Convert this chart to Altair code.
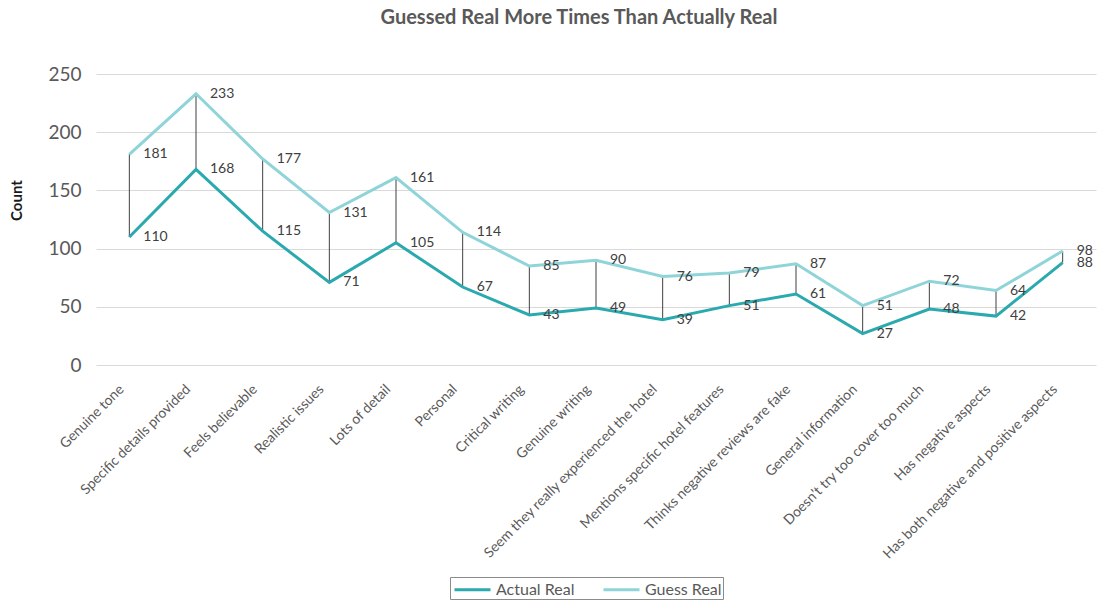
import altair as alt
import pandas as pd

categories = [
    "Genuine tone", "Specific details provided", "Feels believable", "Realistic issues",
    "Lots of detail", "Personal", "Critical writing", "Genuine writing",
    "Seem they really experienced the hotel", "Mentions specific hotel features",
    "Thinks negative reviews are fake", "General information",
    "Doesn\u2019t try too cover too much", "Has negative aspects",
    "Has both negative and positive aspects",
]
actual_real = [110, 168, 115, 71, 105, 67, 43, 49, 39, 51, 61, 27, 48, 42, 88]
guess_real = [181, 233, 177, 131, 161, 114, 85, 90, 76, 79, 87, 51, 72, 64, 98]

series_names = ["Actual Real", "Guess Real"]
series_colors = ["#2AA9AE", "#8FD4D8"]

wide = pd.DataFrame({"cat": categories, "actual": actual_real, "guess": guess_real})
long = pd.concat([
    pd.DataFrame({"cat": categories, "value": actual_real, "series": "Actual Real", "ord": 0}),
    pd.DataFrame({"cat": categories, "value": guess_real, "series": "Guess Real", "ord": 1}),
])

FONT = "Lato"
x = alt.X("cat:N", sort=categories, scale=alt.Scale(type="point", padding=0.5),
          axis=alt.Axis(title=None, labelAngle=-45, labelFontSize=14, labelColor="#595959",
                        ticks=False, domain=False, grid=False, labelPadding=17, labelFont=FONT,
                        labelLimit=400, labelOffset=-13))
y_scale = alt.Scale(domain=[0, 250])

rules = alt.Chart(wide).mark_rule(color="#404040", strokeWidth=1).encode(
    x=x,
    y=alt.Y("actual:Q", scale=y_scale,
            axis=alt.Axis(title="Count", values=[0, 50, 100, 150, 200, 250], grid=True,
                          gridColor="#d9d9d9", gridWidth=1.2, domain=False, ticks=False,
                          labelFontSize=19, labelColor="#595959", labelPadding=15, labelFont=FONT,
                          titleFont=FONT, titleFontSize=15, titleFontWeight="bold",
                          titleColor="#1a1a1a", titleX=-72, titleY=126)),
    y2="guess:Q",
)

lines = alt.Chart(long).mark_line(strokeWidth=3).encode(
    x=x,
    y=alt.Y("value:Q", scale=y_scale),
    color=alt.Color("series:N", scale=alt.Scale(domain=series_names, range=series_colors),
                    legend=alt.Legend(title=None, orient="none", legendX=354, legendY=503,
                                      direction="horizontal", strokeColor="#8c8c8c", padding=1,
                                      labelFontSize=16, labelColor="#595959", labelFont=FONT,
                                      symbolType="M-1.8,0H1.8", symbolStrokeWidth=3, symbolSize=400,
                                      symbolOffset=10, labelOffset=12, columnPadding=22)),
    detail="series:N",
    order="ord:Q",
)

labels = alt.Chart(long).mark_text(align="left", baseline="middle", dx=14, fontSize=14,
                                   color="#404040", font=FONT).encode(
    x=x,
    y=alt.Y("value:Q", scale=y_scale),
    text="value:Q",
)

chart = alt.layer(rules, lines, labels).properties(
    width=1000, height=291,
    title=alt.TitleParams("Guessed Real More Times Than Actually Real", fontSize=20,
                          fontWeight="bold", color="#595959", font=FONT, offset=37, dx=-17),
    autosize=alt.AutoSizeParams(type="none"),
    padding={"left": 96, "top": 74, "right": 6, "bottom": 236},
).configure_view(stroke=None)

chart.save("out.html", embed_options={"renderer": "svg", "actions": False})
